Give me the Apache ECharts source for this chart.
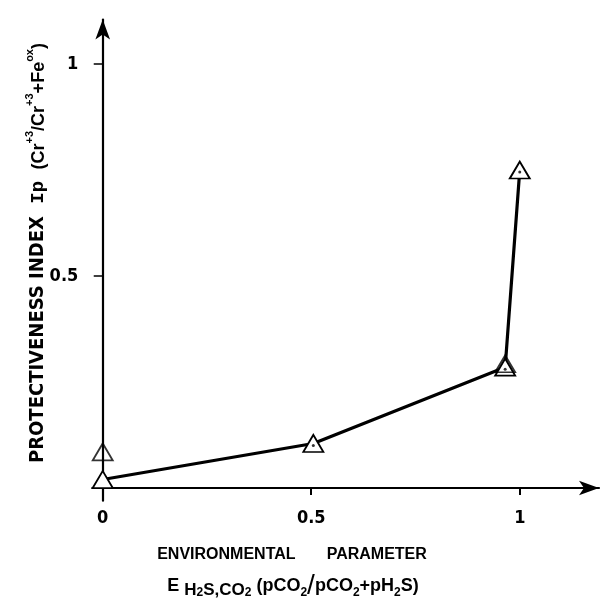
<!DOCTYPE html>
<html>
<head>
<meta charset="utf-8">
<script src="https://cdn.jsdelivr.net/npm/echarts@6/dist/echarts.min.js"></script>
<style>
html,body{margin:0;padding:0;background:#fff;}
#chart{width:612px;height:599px;}
</style>
</head>
<body>
<div id="chart"></div>
<script>
// Data
var linePointsX = [0, 0.505, 0.965, 1.0];
var linePointsY = [0.02, 0.105, 0.285, 0.75];
var extraPointsX = [0, 0.965];
var extraPointsY = [0.085, 0.293];
var dotPointsX = [0.505, 0.965, 1.0];
var dotPointsY = [0.105, 0.285, 0.75];
var xTickValues = [0, 0.5, 1];
var yTickValues = [0.5, 1];

function pairs(xs, ys) { return xs.map(function (x, i) { return [x, ys[i]]; }); }

var chart = echarts.init(document.getElementById('chart'), null, {renderer: 'canvas'});
var numFont = '"Liberation Sans Narrow", "DejaVu Sans Condensed", sans-serif';
var titleFont = '"Liberation Sans", Arial, sans-serif';
var triStyle = {color: '#fff', borderColor: '#000', borderWidth: 1.8};

chart.setOption({
  animation: false,
  backgroundColor: '#fff',
  grid: {left: 92.3, top: 19.5, width: 506.7, height: 481.2, containLabel: false},
  xAxis: {
    type: 'value', min: -0.025, max: 1.19,
    splitLine: {show: false},
    axisLine: {onZero: true, lineStyle: {color: '#000', width: 2.2}, symbol: ['none', 'arrow'], symbolSize: [11, 20]},
    axisTick: {show: true, customValues: [0.5, 1], length: 7, lineStyle: {color: '#000', width: 2}},
    axisLabel: {customValues: xTickValues, margin: 9, color: '#000', fontFamily: numFont, fontWeight: 'bold', fontSize: 18,
      formatter: function (v) { return v === 0 ? '0' : (v === 1 ? '1' : '0.5'); }}
  },
  yAxis: {
    type: 'value', min: -0.03, max: 1.105,
    splitLine: {show: false},
    axisLine: {onZero: true, lineStyle: {color: '#000', width: 2.2}, symbol: ['none', 'arrow'], symbolSize: [11, 20]},
    axisTick: {show: true, customValues: yTickValues, length: 9, lineStyle: {color: '#000', width: 1.5}},
    axisLabel: {customValues: yTickValues, margin: 14, color: '#000', fontFamily: numFont, fontWeight: 'bold', fontSize: 18,
      formatter: function (v) { return v === 1 ? '1' : '0.5'; }}
  },
  series: [
    {
      type: 'line', data: pairs(linePointsX, linePointsY),
      lineStyle: {color: '#000', width: 3.2},
      symbol: 'triangle', symbolSize: [20, 17], itemStyle: triStyle, z: 3
    },
    {
      type: 'scatter', data: pairs(extraPointsX, extraPointsY),
      symbol: 'triangle', symbolSize: [20, 17], itemStyle: {color: 'rgba(255,255,255,0)', borderColor: '#000', borderWidth: 1.8}, z: 4
    },
    {
      type: 'scatter', data: pairs(dotPointsX, dotPointsY),
      symbol: 'circle', symbolSize: 3, symbolOffset: [0, 2], itemStyle: {color: '#000'}, z: 5
    }
  ],
  graphic: [
    {
      type: 'text', x: 36, y: 253, rotation: Math.PI / 2,
      style: {
        text: '{b|PROTECTIVENESS INDEX  }{m|Ip }{p|(Cr}{sup|+3}{p|/Cr}{sup|+3}{p|+Fe}{sup|ox}{p|)}',
        align: 'center', verticalAlign: 'middle',
        rich: {
          b: {fontFamily: numFont, fontWeight: 'bold', fontSize: 20, fill: '#000', lineHeight: 24, verticalAlign: 'bottom'},
          m: {fontFamily: '"Liberation Mono", "DejaVu Sans Mono", monospace', fontWeight: 'bold', fontSize: 19, fill: '#000', lineHeight: 24, verticalAlign: 'bottom'},
          p: {fontFamily: titleFont, fontWeight: 'bold', fontSize: 18, fill: '#000', lineHeight: 24, verticalAlign: 'bottom'},
          sup: {fontFamily: titleFont, fontWeight: 'bold', fontSize: 11, fill: '#000', lineHeight: 24, verticalAlign: 'top'}
        }
      }
    },
    {
      type: 'text', x: 292, y: 555,
      style: {
        text: 'ENVIRONMENTAL       PARAMETER', align: 'center', verticalAlign: 'middle',
        fontFamily: titleFont, fontWeight: 'bold', fontSize: 16, fill: '#000'
      }
    },
    {
      type: 'text', x: 293, y: 586,
      style: {
        text: '{b|E }{s|H}{ss|2}{s|S,CO}{ss|2}{b| (pCO}{s2|2}{sl|/}{b|pCO}{s2|2}{b|+pH}{s2|2}{b|S)}',
        align: 'center', verticalAlign: 'middle',
        rich: {
          b: {fontFamily: titleFont, fontWeight: 'bold', fontSize: 18, fill: '#000', lineHeight: 26, verticalAlign: 'middle'},
          s: {fontFamily: titleFont, fontWeight: 'bold', fontSize: 17, fill: '#000', lineHeight: 26, verticalAlign: 'bottom'},
          ss: {fontFamily: titleFont, fontWeight: 'bold', fontSize: 12, fill: '#000', lineHeight: 22, verticalAlign: 'bottom'},
          s2: {fontFamily: titleFont, fontWeight: 'bold', fontSize: 12, fill: '#000', lineHeight: 22, verticalAlign: 'bottom'},
          sl: {fontFamily: titleFont, fontWeight: 'normal', fontSize: 28, fill: '#000', lineHeight: 26, verticalAlign: 'middle'}
        }
      }
    }
  ]
});
</script>
</body>
</html>
